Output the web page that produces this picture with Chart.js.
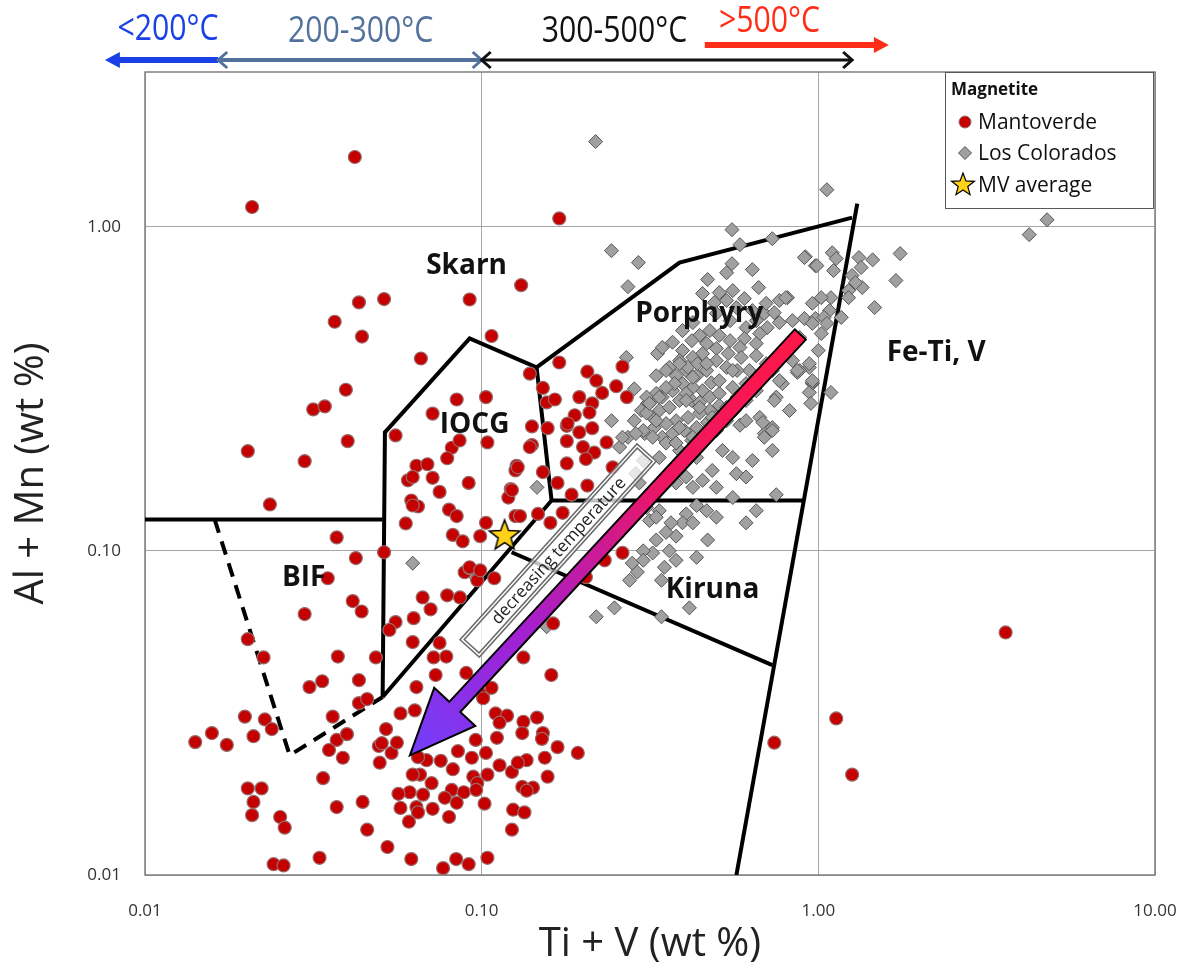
<!DOCTYPE html>
<html>
<head>
<meta charset="utf-8">
<script src="https://cdn.jsdelivr.net/npm/chart.js@4.4.1/dist/chart.umd.min.js"></script>
<style>
  html, body { margin: 0; padding: 0; background: #fff; overflow: hidden; }
  #wrap { width: 1190px; height: 980px; }
  #chart { display: block; }
</style>
</head>
<body>
<div id="wrap"><canvas id="chart"></canvas></div>
<script>
// Axis ticks
const xTicks = [0.01, 0.1, 1, 10];
const yTicks = [0.01, 0.1, 1];

// Magnetite analyses: [Ti+V, Al+Mn] in wt %
const mantoverde = [
  [0.042,1.64],[0.0208,1.15],[0.17,1.06],[0.131,0.66],[0.107,0.46],
  [0.0921,0.596],[0.0513,0.598],[0.0432,0.584],[0.0366,0.509],[0.0441,0.458],[0.066,0.392],
  [0.0395,0.314],[0.0316,0.273],[0.0342,0.279],[0.0202,0.203],[0.040,0.218],[0.0298,0.189],[0.0235,0.139],
  [0.0555,0.227],[0.0371,0.110],[0.0423,0.095],[0.0513,0.099],[0.0349,0.0823],[0.0414,0.070],[0.044,0.065],
  [0.0298,0.0638],[0.0202,0.0534],[0.0595,0.1215],[0.0555,0.0603],[0.0532,0.057],[0.0624,0.0523],[0.0628,0.062],
  [0.0668,0.0718],[0.0705,0.066],[0.079,0.0729],[0.0862,0.0718],[0.089,0.0859],[0.0921,0.0884],[0.097,0.0811],[0.109,0.0823],
  [0.0843,0.293],[0.103,0.298],[0.0715,0.265],[0.0815,0.208],[0.086,0.219],[0.104,0.216],[0.079,0.193],[0.064,0.183],
  [0.069,0.185],[0.0604,0.165],[0.0624,0.169],[0.0715,0.168],[0.0915,0.162],[0.075,0.152],[0.0618,0.143],[0.0647,0.137],
  [0.080,0.134],[0.0843,0.128],[0.0821,0.112],[0.0878,0.107],[0.099,0.111],[0.103,0.122],[0.127,0.183],[0.126,0.177],
  [0.122,0.155],[0.120,0.146],[0.126,0.128],[0.141,0.242],[0.141,0.212],[0.170,0.381],[0.139,0.352],[0.152,0.318],
  [0.156,0.287],[0.165,0.293],[0.157,0.239],[0.179,0.243],[0.168,0.162],[0.152,0.175],[0.160,0.122],[0.0921,0.089],
  [0.099,0.0871],[0.0624,0.138],
  [0.206,0.357],[0.219,0.335],[0.251,0.322],[0.262,0.37],[0.27,0.298],[0.228,0.307],[0.195,0.298],[0.213,0.285],
  [0.189,0.262],[0.209,0.267],[0.213,0.239],[0.195,0.232],[0.180,0.247],[0.179,0.218],[0.2,0.209],[0.235,0.216],
  [0.216,0.201],[0.204,0.192],[0.179,0.186],[0.139,0.209],[0.128,0.181],[0.123,0.154],[0.185,0.149],[0.206,0.159],
  [0.174,0.131],[0.147,0.130],[0.13,0.128],[0.245,0.181],[0.262,0.0986],[0.232,0.0935],[0.204,0.083],[0.163,0.0597],
  [0.0225,0.0469],[0.0374,0.0472],[0.0485,0.0469],[0.072,0.0469],[0.0785,0.0472],[0.075,0.052],[0.133,0.0469],[0.161,0.0414],
  [0.0308,0.038],[0.0336,0.0396],[0.0432,0.0399],[0.064,0.038],[0.073,0.0414],[0.090,0.042],[0.101,0.0359],[0.107,0.0378],
  [0.0198,0.0308],[0.0227,0.0302],[0.0238,0.0282],[0.0141,0.0257],[0.0158,0.0274],[0.0175,0.0252],[0.021,0.0268],
  [0.0432,0.0339],[0.0457,0.0349],[0.0361,0.0308],[0.0371,0.0261],[0.0398,0.0272],[0.0352,0.0243],[0.0387,0.023],
  [0.052,0.0282],[0.0574,0.0315],[0.0633,0.0322],[0.0495,0.025],[0.054,0.0238],[0.056,0.0256],[0.0498,0.0222],
  [0.0338,0.0199],[0.0371,0.0162],[0.0443,0.0168],[0.0457,0.0138],[0.0525,0.0122],[0.033,0.0113],[0.0241,0.0108],
  [0.0258,0.0107],[0.0202,0.0185],[0.0222,0.0185],[0.021,0.0168],[0.0208,0.0153],[0.0252,0.0151],[0.026,0.014],
  [0.0618,0.0112],[0.0768,0.0105],[0.084,0.0112],[0.0915,0.0108],[0.104,0.0113],[0.193,0.0238],[0.168,0.0248],
  [0.0505,0.0255],[0.101,0.0351],[0.110,0.0315],[0.119,0.0310],[0.146,0.0306],[0.133,0.0297],[0.113,0.0295],[0.132,0.0274],
  [0.152,0.0274],[0.151,0.0263],[0.111,0.0265],[0.103,0.0238],[0.096,0.0261],[0.085,0.0241],[0.0935,0.0230],[0.0756,0.0225],
  [0.0686,0.0226],[0.0647,0.0231],[0.154,0.023],[0.136,0.0226],[0.113,0.0218],[0.123,0.0208],[0.128,0.0222],[0.0821,0.0212],
  [0.0944,0.0201],[0.104,0.0204],[0.157,0.0201],[0.0656,0.0204],[0.0624,0.0204],[0.071,0.0192],[0.097,0.0192],[0.0815,0.0183],
  [0.0885,0.018],[0.0611,0.018],[0.0566,0.0178],[0.067,0.0177],[0.0963,0.0183],[0.132,0.0187],[0.142,0.0186],[0.136,0.0182],
  [0.0777,0.0173],[0.0843,0.0167],[0.102,0.0166],[0.064,0.0162],[0.0574,0.0161],[0.0715,0.016],[0.0647,0.0156],[0.080,0.0151],
  [0.0608,0.0146],[0.124,0.0159],[0.134,0.0156],[0.123,0.0138],
  [3.6,0.056],[0.74,0.0256],[1.13,0.0304],[1.26,0.0204]
];

const losColorados = [
  [0.218,1.83],[1.06,1.30],[4.23,0.945],[4.78,1.05],[0.554,0.979],[0.585,0.88],[0.73,0.918],[0.243,0.843],[0.292,0.775],[0.272,0.653],
  [0.915,0.808],[0.98,0.758],[0.554,0.769],[0.534,0.721],[0.637,0.737],[0.469,0.687],[0.665,0.649],[0.766,0.592],[0.81,0.604],
  [0.96,0.58],[0.909,0.521],[0.98,0.521],[0.766,0.506],[0.508,0.626],[0.557,0.635],[0.603,0.6],[0.491,0.583],[0.534,0.592],
  [0.571,0.563],[0.637,0.551],[0.691,0.54],[0.705,0.488],[0.67,0.468],[0.61,0.488],[0.603,0.452],[0.654,0.436],[0.585,0.424],
  [0.547,0.445],[0.508,0.462],[0.476,0.478],[0.444,0.462],[0.421,0.445],[0.466,0.436],[0.498,0.421],[0.54,0.406],[0.59,0.395],
  [0.654,0.4],[0.70,0.378],[0.838,0.386],[0.94,0.368],[0.866,0.355],[0.96,0.328],[0.782,0.328],[0.67,0.34],[0.624,0.36],
  [0.574,0.36],[0.534,0.368],[0.498,0.386],[0.453,0.406],[0.424,0.395],[0.395,0.415],[0.387,0.386],[0.361,0.368],[0.333,0.406],
  [0.33,0.347],[0.269,0.395],[0.284,0.316],[0.243,0.252],[0.378,0.347],[0.405,0.36],[0.435,0.347],[0.466,0.36],[0.481,0.33],
  [0.453,0.312],[0.424,0.319],[0.395,0.328],[0.369,0.312],[0.344,0.298],[0.322,0.291],[0.311,0.285],[0.337,0.271],[0.361,0.277],
  [0.387,0.291],[0.421,0.291],[0.444,0.287],[0.476,0.298],[0.508,0.306],[0.557,0.319],[0.574,0.298],[0.508,0.281],[0.476,0.271],
  [0.444,0.266],[0.41,0.258],[0.378,0.252],[0.353,0.247],[0.326,0.24],[0.305,0.23],[0.284,0.252],[0.298,0.271],[0.344,0.224],
  [0.369,0.23],[0.40,0.235],[0.435,0.24],[0.469,0.249],[0.498,0.258],[0.272,0.224],[0.257,0.209],[0.585,0.244],[0.67,0.258],
  [0.73,0.24],[0.691,0.23],[0.821,0.271],[0.75,0.298],[0.94,0.308],[0.95,0.285],
  [0.262,0.224],[0.302,0.235],[0.322,0.258],[0.353,0.215],[0.337,0.194],[0.387,0.204],[0.369,0.177],[0.405,0.169],[0.378,0.162],
  [0.424,0.157],[0.453,0.165],[0.484,0.177],[0.498,0.157],[0.519,0.204],[0.557,0.194],[0.571,0.173],[0.61,0.169],[0.637,0.190],
  [0.61,0.252],[0.684,0.249],[0.73,0.235],[0.73,0.204],[0.691,0.224],[0.74,0.291],[0.96,0.331],[1.09,0.308],[0.88,0.36],
  [0.75,0.149],[0.654,0.133],[0.61,0.122],[0.557,0.146],[0.498,0.127],[0.466,0.133],[0.435,0.138],[0.405,0.130],[0.395,0.122],
  [0.365,0.122],[0.424,0.122],[0.469,0.108],[0.435,0.0955],[0.378,0.111],[0.353,0.114],[0.337,0.133],[0.315,0.124],[0.330,0.127],
  [0.309,0.136],[0.33,0.108],[0.361,0.100],[0.378,0.0935],[0.349,0.089],[0.322,0.0985],[0.302,0.100],[0.302,0.0935],[0.28,0.0916],
  [0.275,0.0811],[0.29,0.086],[0.342,0.0811],[0.414,0.0667],[0.342,0.0626],[0.219,0.0626],[0.248,0.0667],[0.156,0.0583],
  [0.146,0.157],[0.294,0.162],[0.322,0.154],[0.287,0.173],[0.302,0.19],
  [0.909,0.803],[0.99,0.758],[1.1,0.831],[1.13,0.797],[1.11,0.732],[1.32,0.803],[1.45,0.79],[1.75,0.826],[1.34,0.748],
  [1.26,0.707],[1.70,0.682],[1.35,0.649],[1.29,0.672],[1.23,0.635],[1.23,0.604],[1.09,0.604],[1.47,0.563],[1.17,0.525],
  [1.08,0.551],[1.04,0.525],[0.8,0.604],[0.96,0.503],[1.06,0.503],[1.02,0.468],[1.0,0.415],[0.94,0.378],[0.866,0.36],
  [0.96,0.335],[1.02,0.604],
  [0.0624,0.0916],[0.0953,0.0836],[0.766,0.335],
  [0.453,0.622],[0.498,0.54],[0.547,0.513],[0.654,0.513],[0.70,0.58],[0.74,0.543],[0.424,0.506],[0.395,0.478],[0.369,0.44],
  [0.344,0.424],[0.41,0.368],[0.438,0.378],[0.374,0.328],[0.405,0.306],[0.353,0.319],[0.33,0.306],[0.309,0.298],[0.33,0.252],
  [0.309,0.266],[0.287,0.23],[0.322,0.224],[0.378,0.215],[0.421,0.219],[0.453,0.224],[0.498,0.235],[0.534,0.252],[0.563,0.271],
  [0.61,0.291],[0.654,0.312],[0.73,0.36],[0.766,0.386],[0.821,0.424],[0.88,0.455],[0.838,0.513],
  [0.353,0.36],[0.387,0.378],[0.424,0.343],[0.466,0.378],[0.508,0.335],[0.557,0.36],[0.61,0.328],[0.405,0.291],[0.444,0.277],
  [0.484,0.258],[0.534,0.277],[0.387,0.24],[0.424,0.224],[0.466,0.23],[0.337,0.298],[0.315,0.285],[0.395,0.19],[0.435,0.194]
];

const mvAverage = [[0.117, 0.112]];

// Discrimination field boundaries (data units)
const bifTop = [[0.01,0.125],[0.0508,0.125]];
const bifDashed = [[0.0161,0.125],[0.0269,0.0234],[0.0508,0.0354]];
const iocgField = [[0.0508,0.0354],[0.0516,0.232],[0.0921,0.452],[0.1456,0.368],[0.1613,0.143],[0.0508,0.0354]];
const porphyryTop = [[0.1456,0.368],[0.387,0.775],[1.26,1.066]];
const feTiVLine = [[1.305,1.177],[0.571,0.01]];
const kirunaTop = [[0.1613,0.143],[0.909,0.143]];
const kirunaBottom = [[0.1227,0.099],[0.730,0.0444]];

// Field names and where they sit
const fieldNames = ['Skarn', 'IOCG', 'Porphyry', 'Fe-Ti, V', 'Kiruna', 'BIF'];
const fieldLabelAt = [[0.0902,0.758],[0.0953,0.2436],[0.443,0.539],[2.24,0.409],[0.485,0.0755],[0.0296,0.0823]];

// Temperature header
const tempLabels = ['<200°C', '200-300°C', '300-500°C', '>500°C'];
const tempColors = ['#1a40e6', '#52729c', '#111111', '#ff2d17'];
const tempLabelX = [0.0117, 0.0437, 0.248, 0.716];
const tempArrowX = [[0.0076, 0.0165], [0.0165, 0.1], [0.1, 1.26], [0.46, 1.62]];

// Decreasing temperature arrow (tail -> tip) and its caption box
const trendArrow = [[0.884, 0.465], [0.0612, 0.0234]];
const trendBox = [[0.0921, 0.05], [0.309, 0.201]];

const toXY = arr => arr.map(p => ({x: p[0], y: p[1]}));

function starPath(g, cx, cy, r) {
    g.beginPath();
    for (let i = 0; i < 10; i++) {
        const a = -Math.PI / 2 + i * Math.PI / 5;
        const rr = i % 2 ? r * 0.42 : r;
        g.lineTo(cx + rr * Math.cos(a), cy + rr * Math.sin(a));
    }
    g.closePath();
}

function starCanvas(r) {
    const s = Math.ceil(r * 2 + 4);
    const c = document.createElement('canvas');
    c.width = s; c.height = s;
    const g = c.getContext('2d');
    starPath(g, s / 2, s / 2 + 1, r);
    g.fillStyle = '#ffd21a';
    g.fill();
    g.lineWidth = 1.5;
    g.strokeStyle = '#000';
    g.stroke();
    return c;
}

function lineSet(points, dashed) {
    return {
        type: 'scatter',
        data: toXY(points),
        showLine: true,
        borderColor: '#000',
        borderWidth: 4,
        borderDash: dashed ? [14, 9] : [],
        pointRadius: 0,
        fill: false,
        order: 3
    };
}

// Header, field names, trend arrow, legend, frame
const decorations = {
    id: 'decorations',
    beforeDatasetsDraw(chart) {
        const {ctx, chartArea: a} = chart;
        ctx.save();
        ctx.strokeStyle = '#7f7f7f';
        ctx.lineWidth = 1.5;
        ctx.strokeRect(a.left, a.top, a.right - a.left, a.bottom - a.top);
        ctx.restore();
    },
    afterDatasetsDraw(chart) {
        const {ctx, chartArea: a, scales: {x, y}} = chart;
        ctx.save();

        // field names
        ctx.font = 'bold 28px "Open Sans"';
        ctx.fillStyle = '#111';
        ctx.textAlign = 'center';
        ctx.textBaseline = 'middle';
        fieldNames.forEach((n, i) => {
            ctx.fillText(n, x.getPixelForValue(fieldLabelAt[i][0]), y.getPixelForValue(fieldLabelAt[i][1]));
        });

        // caption box
        const b1 = [x.getPixelForValue(trendBox[0][0]), y.getPixelForValue(trendBox[0][1])];
        const b2 = [x.getPixelForValue(trendBox[1][0]), y.getPixelForValue(trendBox[1][1])];
        const bl = Math.hypot(b2[0] - b1[0], b2[1] - b1[1]);
        ctx.save();
        ctx.translate((b1[0] + b2[0]) / 2, (b1[1] + b2[1]) / 2);
        ctx.rotate(Math.atan2(b2[1] - b1[1], b2[0] - b1[0]));
        ctx.fillStyle = 'rgba(255,255,255,0.75)';
        ctx.fillRect(-bl / 2, -13, bl, 26);
        ctx.strokeStyle = '#6b6b6b';
        ctx.lineWidth = 1.5;
        ctx.strokeRect(-bl / 2, -13, bl, 26);
        ctx.strokeRect(-bl / 2 + 3, -10, bl - 6, 20);
        ctx.fillStyle = '#222';
        ctx.font = '17px "Open Sans"';
        ctx.fillText('decreasing temperature', 0, 1);
        ctx.restore();

        // trend arrow
        const t = [x.getPixelForValue(trendArrow[0][0]), y.getPixelForValue(trendArrow[0][1])];
        const p = [x.getPixelForValue(trendArrow[1][0]), y.getPixelForValue(trendArrow[1][1])];
        const len = Math.hypot(p[0] - t[0], p[1] - t[1]);
        const u = [(p[0] - t[0]) / len, (p[1] - t[1]) / len];
        const n = [-u[1], u[0]];
        const hl = 66, hw = 28, sw = 7.5;
        const base = [p[0] - u[0] * hl, p[1] - u[1] * hl];
        const pt = (o, k) => [o[0] + n[0] * k, o[1] + n[1] * k];
        const poly = [pt(t, sw), pt(base, sw), pt(base, hw), p, pt(base, -hw), pt(base, -sw), pt(t, -sw)];
        const grad = ctx.createLinearGradient(t[0], t[1], p[0], p[1]);
        grad.addColorStop(0, '#ff1747');
        grad.addColorStop(0.35, '#ee1662');
        grad.addColorStop(0.7, '#a41fcf');
        grad.addColorStop(1, '#733ffb');
        ctx.beginPath();
        poly.forEach((q, i) => i ? ctx.lineTo(q[0], q[1]) : ctx.moveTo(q[0], q[1]));
        ctx.closePath();
        ctx.fillStyle = grad;
        ctx.fill();
        ctx.lineWidth = 2;
        ctx.strokeStyle = '#000';
        ctx.lineJoin = 'miter';
        ctx.stroke();

        // legend box
        const lx = a.right - 210, ly = a.top, lw = 208, lh = 136;
        ctx.fillStyle = '#fff';
        ctx.fillRect(lx, ly, lw, lh);
        ctx.strokeStyle = '#595959';
        ctx.lineWidth = 1;
        ctx.strokeRect(lx + 0.5, ly + 0.5, lw, lh);
        ctx.textAlign = 'left';
        ctx.fillStyle = '#111';
        ctx.font = 'bold 17px "Open Sans"';
        ctx.fillText('Magnetite', lx + 6, ly + 18);
        ctx.font = '21px "Open Sans"';
        const rows = [ly + 50, ly + 81, ly + 113];
        // circle
        ctx.beginPath();
        ctx.arc(lx + 20, rows[0], 6, 0, Math.PI * 2);
        ctx.fillStyle = '#c40000';
        ctx.fill();
        ctx.strokeStyle = '#9a6a6a';
        ctx.stroke();
        // diamond
        ctx.beginPath();
        ctx.moveTo(lx + 20, rows[1] - 6.5);
        ctx.lineTo(lx + 26.5, rows[1]);
        ctx.lineTo(lx + 20, rows[1] + 6.5);
        ctx.lineTo(lx + 13.5, rows[1]);
        ctx.closePath();
        ctx.fillStyle = '#a0a0a0';
        ctx.fill();
        ctx.strokeStyle = '#555';
        ctx.stroke();
        // star
        starPath(ctx, lx + 18, rows[2], 12);
        ctx.fillStyle = '#ffd21a';
        ctx.fill();
        ctx.strokeStyle = '#000';
        ctx.lineWidth = 1.2;
        ctx.stroke();
        ctx.fillStyle = '#111';
        ctx.fillText('Mantoverde', lx + 33, rows[0] + 1);
        ctx.fillText('Los Colorados', lx + 33, rows[1] + 1);
        ctx.fillText('MV average', lx + 33, rows[2] + 1);
        ctx.restore();
    },
    afterDraw(chart) {
        const {ctx, chartArea: a, scales: {x}} = chart;
        ctx.save();
        const rowY = [a.top - 12, a.top - 12, a.top - 12, a.top - 27];
        const widths = [6, 4, 3, 6];
        const heads = [['fill', null], ['chev', 'chev'], ['chev', 'chev'], [null, 'fill']];
        tempArrowX.forEach((r, i) => {
            const x1 = x.getPixelForValue(r[0]), x2 = x.getPixelForValue(r[1]), yy = rowY[i];
            ctx.strokeStyle = tempColors[i];
            ctx.fillStyle = tempColors[i];
            ctx.lineWidth = widths[i];
            ctx.lineCap = 'butt';
            const s1 = heads[i][0] === 'fill' ? 12 : 0, s2 = heads[i][1] === 'fill' ? 12 : 0;
            ctx.beginPath();
            ctx.moveTo(x1 + s1, yy);
            ctx.lineTo(x2 - s2, yy);
            ctx.stroke();
            [[x1, -1, heads[i][0]], [x2, 1, heads[i][1]]].forEach(([hx, d, kind]) => {
                if (!kind) return;
                if (kind === 'fill') {
                    ctx.beginPath();
                    ctx.moveTo(hx, yy);
                    ctx.lineTo(hx - d * 15, yy - 8);
                    ctx.lineTo(hx - d * 15, yy + 8);
                    ctx.closePath();
                    ctx.fill();
                } else {
                    ctx.beginPath();
                    ctx.lineWidth = 3;
                    ctx.moveTo(hx - d * 9, yy - 8);
                    ctx.lineTo(hx, yy);
                    ctx.lineTo(hx - d * 9, yy + 8);
                    ctx.stroke();
                    ctx.lineWidth = widths[i];
                }
            });
        });
        ctx.textAlign = 'center';
        ctx.textBaseline = 'middle';
        ctx.font = '36px "Open Sans"';
        const labelY = [a.top - 42, a.top - 40, a.top - 40, a.top - 50];
        tempLabels.forEach((txt, i) => {
            ctx.save();
            ctx.translate(x.getPixelForValue(tempLabelX[i]), labelY[i]);
            ctx.scale(0.84, 1);
            ctx.fillStyle = tempColors[i];
            ctx.fillText(txt, 0, 0);
            ctx.restore();
        });
        ctx.restore();
    }
};

new Chart(document.getElementById('chart'), {
    type: 'scatter',
    data: {
        datasets: [
            {
                label: 'Los Colorados',
                data: toXY(losColorados),
                pointStyle: 'rectRot',
                pointRadius: 7,
                backgroundColor: '#a0a0a0',
                borderColor: '#555555',
                borderWidth: 1,
                order: 2
            },
            {
                label: 'Mantoverde',
                data: toXY(mantoverde),
                pointStyle: 'circle',
                pointRadius: 6.5,
                backgroundColor: '#c40000',
                borderColor: '#9a6a6a',
                borderWidth: 1.2,
                order: 1
            },
            lineSet(bifTop), lineSet(bifDashed, true), lineSet(iocgField), lineSet(porphyryTop),
            lineSet(feTiVLine), lineSet(kirunaTop), lineSet(kirunaBottom),
            {
                label: 'MV average',
                data: toXY(mvAverage),
                pointStyle: starCanvas(16),
                order: 0
            }
        ]
    },
    options: {
        responsive: true,
        maintainAspectRatio: false,
        animation: false,
        layout: { padding: { left: 0, right: 35, top: 72, bottom: 0 } },
        plugins: {
            legend: { display: false },
            tooltip: { enabled: false }
        },
        scales: {
            x: {
                type: 'logarithmic',
                min: 0.01,
                max: 10,
                afterBuildTicks: s => { s.ticks = xTicks.map(v => ({value: v})); },
                afterFit: s => { s.height = 105; },
                grid: { color: '#a6a6a6', lineWidth: 1, drawTicks: true, tickLength: 24, tickColor: 'rgba(0,0,0,0)' },
                border: { display: false },
                ticks: {
                    padding: 2,
                    color: '#333',
                    font: { family: 'Open Sans', size: 17 },
                    maxRotation: 0,
                    callback: v => Number(v).toFixed(2)
                },
                title: {
                    display: true,
                    text: 'Ti + V (wt %)',
                    color: '#222',
                    font: { family: 'Open Sans', size: 40 },
                    padding: { top: 0, bottom: 11 }
                }
            },
            y: {
                type: 'logarithmic',
                min: 0.01,
                max: 3,
                afterBuildTicks: s => { s.ticks = yTicks.map(v => ({value: v})); },
                afterFit: s => { s.width = 145; },
                grid: { color: '#a6a6a6', lineWidth: 1, drawTicks: false },
                border: { display: false },
                ticks: {
                    padding: 24,
                    color: '#333',
                    font: { family: 'Open Sans', size: 17 },
                    callback: v => Number(v).toFixed(2)
                },
                title: {
                    display: true,
                    text: 'Al + Mn (wt %)',
                    color: '#222',
                    font: { family: 'Open Sans', size: 40 },
                    padding: { top: 8, bottom: 0 }
                }
            }
        }
    },
    plugins: [decorations]
});
</script>
</body>
</html>
